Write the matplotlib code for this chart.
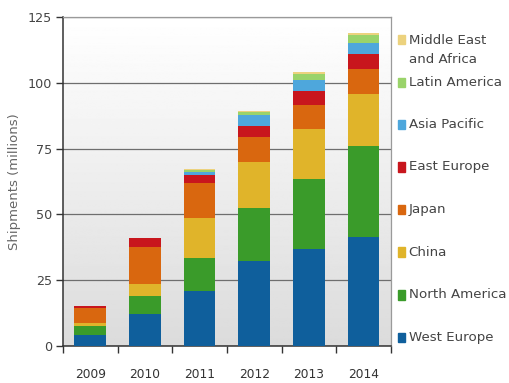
import numpy as np
import matplotlib.pyplot as plt
from matplotlib.patches import Rectangle

years = ['2009', '2010', '2011', '2012', '2013', '2014']

# shipments in millions, bottom of the stack first
regions = ['West Europe', 'North America', 'China', 'Japan',
           'East Europe', 'Asia Pacific', 'Latin America', 'Middle East\nand Africa']
west_europe = [4.2, 12.0, 20.9, 32.4, 36.7, 41.3]
north_america = [3.4, 7.1, 12.4, 19.9, 26.7, 34.7]
china = [1.0, 4.5, 15.2, 17.5, 18.9, 19.7]
japan = [6.0, 14.1, 13.3, 9.5, 9.1, 9.4]
east_europe = [0.6, 3.2, 3.2, 4.3, 5.5, 5.8]
asia_pacific = [0.0, 0.0, 1.2, 4.2, 4.2, 4.3]
latin_america = [0.0, 0.0, 0.8, 1.0, 2.2, 2.8]
middle_east_africa = [0.0, 0.0, 0.4, 0.5, 0.7, 1.0]

series = [west_europe, north_america, china, japan, east_europe,
          asia_pacific, latin_america, middle_east_africa]
colors = ['#0f5f9c', '#3a9b2a', '#e0b42a', '#d9670f', '#c8161d',
          '#4ea7dc', '#9ad36a', '#ecd27e']

fig = plt.figure(figsize=(5.09, 3.83), dpi=100)
ax = fig.add_axes([0.1238, 0.0966, 0.6442, 0.859])

# light vertical gradient behind the bars
grad = np.linspace(1.0, 0.86, 256).reshape(-1, 1)
ax.imshow(grad, cmap='gray', vmin=0, vmax=1, extent=[0, 1, 0, 1],
          transform=ax.transAxes, aspect='auto', zorder=0)

x = np.arange(len(years))
bottom = np.zeros(len(years))
for vals, col in zip(series, colors):
    ax.bar(x, vals, 0.58, bottom=bottom, color=col, zorder=3)
    bottom += np.array(vals)

ax.set_xlim(-0.5, 5.5)
ax.set_ylim(0, 125)
ax.set_yticks([0, 25, 50, 75, 100, 125])
ax.yaxis.grid(True, color='#6e6e6e', linewidth=0.9, zorder=1)
ax.set_axisbelow(True)

ax.set_xticks(x)
ax.set_xticklabels(years)
ax.set_xticks(np.arange(-0.5, 6.0, 1.0), minor=True)
ax.tick_params(axis='x', which='major', length=0, pad=16, labelsize=8.8, colors='#333333')
ax.tick_params(axis='x', which='minor', length=5, width=1, color='#333333', direction='out')
ax.tick_params(axis='y', length=5, width=1, color='#333333', labelsize=9.2,
               labelcolor='#444444', pad=3)

for side in ['left', 'bottom']:
    ax.spines[side].set_color('#333333')
    ax.spines[side].set_linewidth(1.1)
for side in ['right', 'top']:
    ax.spines[side].set_color('#9a9a9a')
    ax.spines[side].set_linewidth(0.9)

ax.set_ylabel('Shipments (millions)', fontsize=9.5, color='#666666', labelpad=5)

# legend column on the right, top entry first
label_y = [0.869, 0.785, 0.674, 0.564, 0.452, 0.342, 0.230, 0.118]
for name, col, ly in zip(regions[::-1], colors[::-1], label_y):
    first_line = ly + (0.027 if '\n' in name else 0)
    fig.patches.append(Rectangle((0.781, first_line - 0.012), 0.0155, 0.024,
                                 transform=fig.transFigure, color=col))
    fig.text(0.803, ly, name, fontsize=9.6, color='#444444', va='center',
             ha='left', linespacing=1.55)

fig.savefig('out.png', dpi=100)
